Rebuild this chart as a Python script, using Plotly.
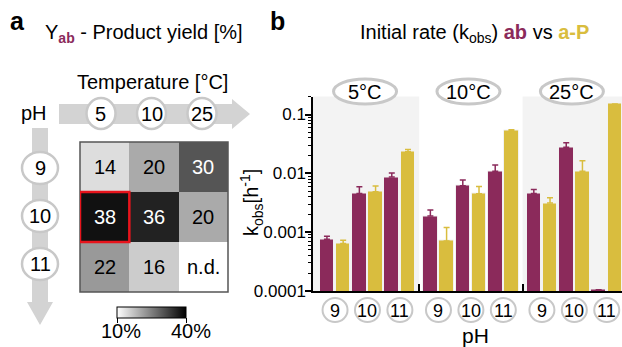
import plotly.graph_objects as go

# ---------------- data ----------------
temps = ["5", "10", "25"]            # temperature [°C]
ph_levels = ["9", "10", "11"]

# product yield Y_ab [%], rows = pH 9/10/11, columns = 5/10/25 °C (None = n.d.)
yield_ab = [
    [14, 20, 30],
    [38, 36, 20],
    [22, 16, None],
]
yield_scale = [10, 40]               # colour scale limits [%]

# initial rates k_obs [h^-1], grouped by temperature, then pH 9/10/11
k_ab = [
    [0.00076, 0.00455, 0.00865],
    [0.00188, 0.00615, 0.0109],
    [0.00455, 0.0277, 0.000105],
]
k_ab_err = [
    [0.000095, 0.00135, 0.00145],
    [0.00049, 0.00153, 0.0029],
    [0.00077, 0.0055, 0.0],
]
k_ap = [
    [0.00064, 0.00487, 0.0233],
    [0.00071, 0.00449, 0.0525],
    [0.00312, 0.0109, 0.151],
]
k_ap_err = [
    [0.00009, 0.00123, 0.0022],
    [0.00049, 0.0015, 0.0028],
    [0.00072, 0.0055, 0.0],
]
k_ticks = [1e-4, 1e-3, 1e-2, 1e-1]
k_tick_text = ["0.0001", "0.001", "0.01", "0.1"]

C_AB = "#8b2a5b"
C_AP = "#d9bd3e"
ARROW = "#d3d3d3"
RING = "#c8c8c8"
FONT = "Liberation Sans"

W, H = 622, 347


def px(x):
    return x / W


def py(y):
    return 1 - y / H


# bar layout: 6 bars per temperature group, groups separated by a small gap
GROUP_STEP = 6.38
BAR_W = 0.9


def bar_pos(g, p, s):
    return g * GROUP_STEP + p * 2 + s


X_MIN, X_MAX = -0.86, 18.2
UNIT_PX = (W - 313) / (X_MAX - X_MIN)

fig = go.Figure()

for s, (vals, errs, col, name) in enumerate(
    [(k_ab, k_ab_err, C_AB, "ab"), (k_ap, k_ap_err, C_AP, "a-P")]
):
    xs, ys, es = [], [], []
    for g in range(len(temps)):
        for p in range(len(ph_levels)):
            xs.append(bar_pos(g, p, s))
            ys.append(vals[g][p])
            es.append(errs[g][p])
    fig.add_trace(go.Bar(
        x=xs, y=ys, width=BAR_W, name=name,
        marker=dict(color=col, line=dict(color="#f2f2f2", width=1)),
        error_y=dict(type="data", array=es, arrayminus=[0] * len(es),
                     symmetric=False, color=col, thickness=1.5, width=3),
        xaxis="x", yaxis="y", showlegend=False,
    ))

# yield heatmap with a small horizontal colour bar
fig.add_trace(go.Heatmap(
    z=yield_ab, x=[0, 1, 2], y=[0, 1, 2],
    zmin=yield_scale[0], zmax=yield_scale[1],
    colorscale=[[0, "#ffffff"], [1, "#000000"]],
    xaxis="x2", yaxis="y2", hoverinfo="skip",
    colorbar=dict(
        orientation="h", x=px(151.5), xanchor="center",
        y=py(307), yanchor="top", len=69, lenmode="pixels",
        thickness=11, thicknessmode="pixels",
        outlinecolor="black", outlinewidth=1, xpad=0, ypad=0,
        tickmode="array", tickvals=yield_scale, showticklabels=False,
        ticks="outside", ticklen=5, tickcolor="black",
    ),
))

shapes = []
ann = []


def label(x, y, text, size=20, xref="paper", yref="paper", **kw):
    ann.append(dict(x=x, y=y, xref=xref, yref=yref, text=text,
                    xanchor="center", yanchor="middle", showarrow=False,
                    font=dict(size=size, color=kw.pop("color", "black")), **kw))


# colour bar end labels
label(px(121), py(331), f"{yield_scale[0]}%")
label(px(191), py(331), f"{yield_scale[1]}%")

# shaded temperature groups
bound1 = (bar_pos(0, 2, 1) + bar_pos(1, 0, 0)) / 2
bound2 = (bar_pos(1, 2, 1) + bar_pos(2, 0, 0)) / 2
for x0, x1 in [(X_MIN, bound1), (bound2, X_MAX)]:
    shapes.append(dict(type="rect", xref="x", yref="y domain", x0=x0, x1=x1,
                       y0=0, y1=1, fillcolor="#f3f3f3", line=dict(width=0),
                       layer="below"))

# temperature ovals above the groups
for g, t in enumerate(temps):
    cx = bar_pos(g, 1, 0.5) - 0.15
    rx = 31.5 / UNIT_PX
    shapes.append(dict(type="circle", xref="x", yref="paper",
                       x0=cx - rx, x1=cx + rx, y0=py(104), y1=py(79),
                       line=dict(color=RING, width=3), fillcolor="white"))
    label(cx, py(92), f"{t}°C", xref="x")

# pH circles under the bars
for g in range(len(temps)):
    for p, ph in enumerate(ph_levels):
        cx = bar_pos(g, p, 0.5)
        rx = 12.5 / UNIT_PX
        shapes.append(dict(type="circle", xref="x", yref="paper",
                           x0=cx - rx, x1=cx + rx, y0=py(322), y1=py(298),
                           line=dict(color=RING, width=2), fillcolor="white"))
        label(cx, py(311), ph, size=18, xref="x")

label(px(475), py(335), "pH", size=21)
label(px(251), py(203), "k<sub>obs</sub>[h<sup>-1</sup>]", textangle=-90)

# titles and panel letters
label(px(474), py(33),
      (f"Initial rate (k<sub>obs</sub>) "
       f"<span style='color:{C_AB}'><b>ab</b></span> vs "
       f"<span style='color:{C_AP}'><b>a-P</b></span>"))
label(px(144), py(33),
      (f"Y<sub><span style='color:{C_AB}'><b>ab</b></span></sub>"
       " - Product yield [%]"))
label(px(17), py(21), "<b>a</b>", size=25)
label(px(277), py(21), "<b>b</b>", size=25)


# left panel: arrows with temperature / pH circles
def path(points):
    return "M " + " L ".join(f"{px(x)},{py(y)}" for x, y in points) + " Z"


shapes.append(dict(type="path", xref="paper", yref="paper", layer="below",
                   path=path([(59, 104), (232, 104), (232, 99), (250, 114),
                              (232, 129), (232, 124), (59, 124)]),
                   fillcolor=ARROW, line=dict(width=0)))
shapes.append(dict(type="path", xref="paper", yref="paper", layer="below",
                   path=path([(32, 128), (48, 128), (48, 302), (53, 302),
                              (40, 325), (27, 302), (32, 302)]),
                   fillcolor=ARROW, line=dict(width=0)))

label(px(152), py(82), "Temperature [°C]")
label(px(34), py(113), "pH")

for i, t in enumerate(temps):
    cx = 101 + 50.5 * i
    shapes.append(dict(type="circle", xref="paper", yref="paper",
                       x0=px(cx - 14.5), x1=px(cx + 14.5), y0=py(129), y1=py(98),
                       line=dict(color=RING, width=2.5), fillcolor="white"))
    label(px(cx), py(114), t)

for i, ph in enumerate(ph_levels):
    cy = 168 + 48 * i
    shapes.append(dict(type="circle", xref="paper", yref="paper",
                       x0=px(22), x1=px(58), y0=py(cy + 16), y1=py(cy - 16),
                       line=dict(color=RING, width=2.5), fillcolor="white"))
    label(px(40), py(cy), ph)

# heatmap cell labels, frame and highlighted cell
for r, row in enumerate(yield_ab):
    for c, v in enumerate(row):
        txt = "n.d." if v is None else str(v)
        col = "white" if (v is not None and v >= 28) else "black"
        label(c, r, txt, xref="x2", yref="y2", color=col)

shapes.append(dict(type="rect", xref="x2 domain", yref="y2 domain",
                   x0=0, x1=1, y0=0, y1=1, line=dict(color="#555555", width=1.5)))
shapes.append(dict(type="rect", xref="x2", yref="y2", x0=-0.5, x1=0.5,
                   y0=0.5, y1=1.5, line=dict(color="#e8141c", width=2.5)))

minor_vals = [m * 10 ** e for e in range(-4, 0) for m in range(2, 10)]

fig.update_layout(
    width=W, height=H,
    margin=dict(l=0, r=0, t=0, b=0, autoexpand=False),
    paper_bgcolor="white", plot_bgcolor="white",
    font=dict(family=FONT, color="black"),
    bargap=0, barmode="overlay",
    xaxis=dict(domain=[px(313), 1], range=[X_MIN, X_MAX],
               showticklabels=False, showgrid=False, zeroline=False,
               showline=True, linecolor="black", linewidth=1.5,
               tickmode="array", tickvals=[bound1, bound2],
               ticks="inside", ticklen=7, tickwidth=1.5, tickcolor="black"),
    yaxis=dict(domain=[py(291), py(96.5)], type="log", range=[-4, -0.694],
               showgrid=False, zeroline=False, showline=True,
               linecolor="black", linewidth=1.5,
               tickmode="array", tickvals=k_ticks, ticktext=k_tick_text,
               ticks="outside", ticklen=6, tickwidth=1.5, tickcolor="black",
               ticklabelstandoff=-4,
               tickfont=dict(size=17),
               minor=dict(tickmode="array", tickvals=minor_vals,
                          ticks="outside", ticklen=3, tickwidth=1,
                          tickcolor="black", showgrid=False)),
    xaxis2=dict(domain=[px(80), px(228)], range=[-0.5, 2.5], visible=False,
                anchor="y2"),
    yaxis2=dict(domain=[py(292), py(142)], range=[2.5, -0.5], visible=False,
                anchor="x2"),
    shapes=shapes,
    annotations=ann,
)

fig.write_html("out.html")
